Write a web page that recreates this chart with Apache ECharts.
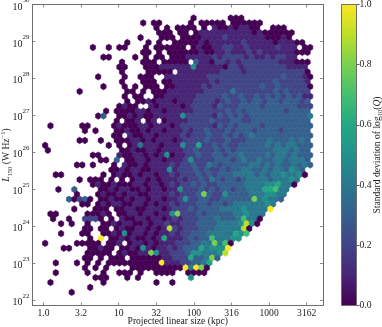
<!DOCTYPE html>
<html lang="en">
<head>
    <meta charset="UTF-8">
    <title>Hexbin of L150 against projected linear size</title>
    <script src="https://cdn.jsdelivr.net/npm/echarts@6/dist/echarts.min.js"></script>
    <style>
        html, body { margin: 0; padding: 0; background: #fff; }
    </style>
</head>
<body>
<div id="main" style="width: 382px;height: 327px;"></div>
<script>
    // one string per hexbin row, top row first. Each char is the std dev in tenths
    // (a = 1.0, . = empty bin), grouped by ten columns so they are easier to read
    var hexRows = [
        ".......... .......... ........0. .....000.. .......... .",
        ".......... ........0. 00.....0.0 0000.00000 0......... .",
        ".......... .......... .0.0.0000. 0.10010110 0..000.... .",
        ".......... .......... .000.00.01 1111111110 1000000... .",
        ".......... ........0. ..000.0000 1111211111 1100010... .",
        ".......... .....0...0 .0..000001 0111111211 111011100. .",
        ".........0 ..0.00...0 .000000.01 0011221121 11112111.0 0",
        ".......... ........00 .0.0000001 0011211121 2111111000 .",
        ".......... .00....0.0 .00.000111 1121222212 11212211.. .",
        ".......... ....0...00 0.00000.31 1022121222 2222111000 .",
        ".......... ....00...0 0011111151 1111022122 2222221111 .",
        ".......... ....0....0 0000.11111 1112222122 2222222220 .",
        ".......... 0....0..00 0..1111111 1222222222 2222232221 0",
        ".......... ....0...00 0.00111111 1212222222 2223222221 .",
        ".......... .0...0.0.0 00.0011111 2122222222 2322322222 0",
        "......0... .....00.0. 0001111111 2222242222 2223232222 .",
        ".......... .....0.00. .001111112 2222322322 3232323231 1",
        ".......... .....0.001 0111011122 2212322323 3233233323 .",
        ".......... ....0100.. 1011110122 2213222333 3233333322 2",
        ".......... .0.0000110 1101111122 2222323233 3333323333 .",
        ".......... 03..001010 0111115222 2213232323 3333333333 4",
        ".......... ...0.001.0 1.01111222 2322233223 3333333333 .",
        ".0.....00. ...0100011 0111012222 2213232333 3233333333 3",
        ".......0.0 ...0010010 1101112122 3222323332 3333233333 .",
        ".......... ...00.1001 1011112122 2322323234 3333333333 3",
        "......00.. 0..0001101 0111012222 3222322233 3343334343 .",
        "0......... ..0.0.0141 1101115226 2232322333 3343434433 3",
        "0......... ....001001 1011112232 2232323333 3334443433 .",
        ".........0 0...100110 1015011223 2233233433 3343443433 3",
        ".......... 00.3.00110 1101112522 2233323433 4334434443 .",
        "......00.0 ...0.10010 1111212232 2432333334 4343433434 3",
        ".......... ..00101100 1115122232 3223233443 343443543. .",
        "..00...... .0.0100101 1011212223 2323334444 3434454450 .",
        "......0.00 0.0.0.0110 1011121223 2432332344 44344454.. .",
        ".........0 1001000110 1101212232 3223333344 44556440.. .",
        "..0..3.... 0010110010 1101152223 2323323344 466744.... .",
        "......0... 0100101100 1111212223 8322533334 445544.... .",
        "....30230. 0010010110 1101125223 3223333338 45443..... .",
        ".......00. 0101100110 1011212223 3233234444 4454...... .",
        ".....0...0 00.0011001 1101222323 3334444544 44a....... .",
        ".00.....00 010.001101 1011582223 2333334454 44........ .",
        ".0..0..222 0.0.100110 1101212223 3343334744 0......... .",
        "...0.0..0. .001011001 0112112223 3334444595 0......... .",
        ".......00. 00.0100110 1019212223 334444490. .......... .",
        "...0...00. .001050110 1011212233 344444657. .......... .",
        "........0. a.00101001 0161112323 3744455... .......... .",
        "0.....0000 0.001.0110 1011122233 448470.... .......... .",
        "...00...00 100.001051 0112123336 4555a..... .......... .",
        "........00 000.010011 8511222355 44459..... .......... .",
        ".......00. 0.000.0000 0011222633 483....... .......... .",
        "..0...0.0. 0.00000000 00a1112233 46........ .......... .",
        ".......0.0 .0....0000 000000a4a8 0......... .......... .",
        "..0.....0. .0..000.0. .0000..000 0......... .......... .",
        ".........0 00...0.0.. .......5.. .......... .......... .",
        ".0........ .0........ .0..0..... .......... .......... .",
        "........0. .......... .......... .......... .......... .",
        ".....0.... .......... .......... .......... .......... ."
    ];
    // hex grid in log10 units
    var firstLogSize = 0.0226;
    var firstLogLum = 22.208;
    var colStep = 0.07048;
    var rowStep = 0.1326;

    var sizeTicks = [0, 0.5, 1, 1.5, 2, 2.5, 3, 3.5];
    var sizeLabels = ['1.0', '3.2', '10', '32', '100', '316', '1000', '3162'];
    var lumTicks = [22, 23, 24, 25, 26, 27, 28, 29, 30];
    var barTicks = [0, 0.2, 0.4, 0.6, 0.8, 1.0];
    var viridis = ['#440154', '#482475', '#414487', '#355f8d', '#2a788e', '#21918c', '#22a884', '#44bf70', '#7ad151', '#bddf26', '#fde725'];

    var serif = '"Liberation Serif", serif';
    var spine = '#6e6e6e';

    var hexData = [];
    for (var i = 0; i < hexRows.length; i++) {
        var chars = hexRows[i].replace(/ /g, '');
        var rowNum = hexRows.length - 1 - i;  // row 0 is the bottom one
        var shift = rowNum % 2 ? 0.5 : 0;
        for (var c = 0; c < chars.length; c++) {
            if (chars[c] === '.') continue;
            var std = chars[c] === 'a' ? 1 : parseInt(chars[c]) / 10;
            hexData.push([firstLogSize + (c + shift) * colStep, firstLogLum + rowNum * rowStep, std]);
        }
    }

    function renderHex(params, api) {
        var lx = api.value(0);
        var ly = api.value(1);
        var hw = colStep / 2;
        var hh = rowStep * 2 / 3;
        var pts = [
            api.coord([lx + hw, ly - hh / 2]),
            api.coord([lx + hw, ly + hh / 2]),
            api.coord([lx, ly + hh]),
            api.coord([lx - hw, ly + hh / 2]),
            api.coord([lx - hw, ly - hh / 2]),
            api.coord([lx, ly - hh])
        ];
        var color = viridis[Math.round(api.value(2) * 10)];
        return {
            type: 'polygon',
            shape: { points: pts },
            style: { fill: color, stroke: color, lineWidth: 0.6 }
        };
    }

    var gradientStops = [];
    for (var j = 0; j < viridis.length; j++) {
        gradientStops.push({ offset: 1 - j / 10, color: viridis[j] });
    }

    function lumLabel(v) {
        return '{b|10}{s|' + v + '}';
    }

    var myChart = echarts.init(document.getElementById('main'), null, { renderer: 'canvas' });

    var option = {
        animation: false,
        textStyle: { fontFamily: serif },
        grid: [
            { left: 32.5, top: 4.5, width: 290.5, height: 301, outerBoundsMode: 'none' },
            { left: 341.5, top: 4.5, width: 15, height: 301, show: true, borderColor: spine, borderWidth: 1, z: 5, outerBoundsMode: 'none' }
        ],
        xAxis: [
            {
                type: 'value', gridIndex: 0, min: -0.146, max: 3.717,
                name: 'Projected linear size (kpc)', nameLocation: 'middle', nameGap: 11, nameMoveOverlap: false,
                nameTextStyle: { fontFamily: serif, fontSize: 9.6, color: '#222' },
                axisLine: { onZero: false, lineStyle: { color: spine, width: 1 } },
                axisTick: { inside: true, length: 3, customValues: sizeTicks, lineStyle: { color: spine, width: 0.8 } },
                axisLabel: {
                    customValues: sizeTicks, margin: 3, fontFamily: serif, fontSize: 9.6, color: '#222',
                    formatter: function (v) { return sizeLabels[sizeTicks.indexOf(v)]; }
                },
                splitLine: { show: false }
            },
            {
                type: 'value', gridIndex: 0, min: -0.146, max: 3.717, position: 'top',
                axisLine: { onZero: false, lineStyle: { color: spine, width: 1 } },
                axisTick: { inside: true, length: 3, customValues: sizeTicks, lineStyle: { color: spine, width: 0.8 } },
                axisLabel: { show: false }, splitLine: { show: false }
            },
            {
                type: 'category', gridIndex: 1, data: ['std'],
                axisLine: { show: false }, axisTick: { show: false }, axisLabel: { show: false }
            }
        ],
        yAxis: [
            {
                type: 'value', gridIndex: 0, min: 21.85, max: 30,
                name: '{i|L}{sub|150} (W Hz{sup|\u22121})', nameLocation: 'middle', nameGap: 19, nameRotate: 90, nameMoveOverlap: false,
                nameTextStyle: {
                    fontFamily: serif, fontSize: 9.6, color: '#222',
                    rich: {
                        i: { fontFamily: serif, fontStyle: 'italic', fontSize: 9.6, color: '#222' },
                        sub: { fontFamily: serif, fontSize: 6.5, color: '#222', verticalAlign: 'bottom', lineHeight: 12 },
                        sup: { fontFamily: serif, fontSize: 6.5, color: '#222', verticalAlign: 'top', lineHeight: 14 }
                    }
                },
                axisLine: { onZero: false, lineStyle: { color: spine, width: 1 } },
                axisTick: { inside: true, length: 3, customValues: lumTicks, lineStyle: { color: spine, width: 0.8 } },
                axisLabel: {
                    customValues: lumTicks, margin: 3, formatter: lumLabel,
                    rich: {
                        b: { fontFamily: serif, fontSize: 10, color: '#222', verticalAlign: 'bottom', lineHeight: 12 },
                        s: { fontFamily: serif, fontSize: 7, color: '#222', verticalAlign: 'top', lineHeight: 15 }
                    }
                },
                splitLine: { show: false }
            },
            {
                type: 'value', gridIndex: 0, min: 21.85, max: 30, position: 'right',
                axisLine: { onZero: false, lineStyle: { color: spine, width: 1 } },
                axisTick: { inside: true, length: 3, customValues: lumTicks, lineStyle: { color: spine, width: 0.8 } },
                axisLabel: { show: false }, splitLine: { show: false }
            },
            {
                type: 'value', gridIndex: 1, min: 0, max: 1, position: 'right',
                name: 'Standard deviation of log{sub|10}({i|Q})', nameLocation: 'middle', nameGap: 15, nameRotate: 90, nameMoveOverlap: false,
                nameTextStyle: {
                    fontFamily: serif, fontSize: 9.6, color: '#222',
                    rich: {
                        i: { fontFamily: serif, fontStyle: 'italic', fontSize: 9.6, color: '#222' },
                        sub: { fontFamily: serif, fontSize: 6.5, color: '#222', verticalAlign: 'bottom', lineHeight: 12 }
                    }
                },
                axisLine: { show: false },
                axisTick: { show: true, length: 3, customValues: barTicks, lineStyle: { color: '#333', width: 0.8 } },
                axisLabel: {
                    customValues: barTicks, margin: 3, fontFamily: serif, fontSize: 9.6, color: '#222',
                    formatter: function (v) { return v.toFixed(1); }
                },
                splitLine: { show: false }
            }
        ],
        series: [
            {
                type: 'custom', xAxisIndex: 0, yAxisIndex: 0, clip: true,
                renderItem: renderHex, data: hexData, silent: true
            },
            {
                type: 'bar', xAxisIndex: 2, yAxisIndex: 2, barWidth: '100%', silent: true,
                data: [1],
                itemStyle: { color: new echarts.graphic.LinearGradient(0, 0, 0, 1, gradientStops) }
            }
        ]
    };

    myChart.setOption(option, true);
</script>
</body>
</html>
